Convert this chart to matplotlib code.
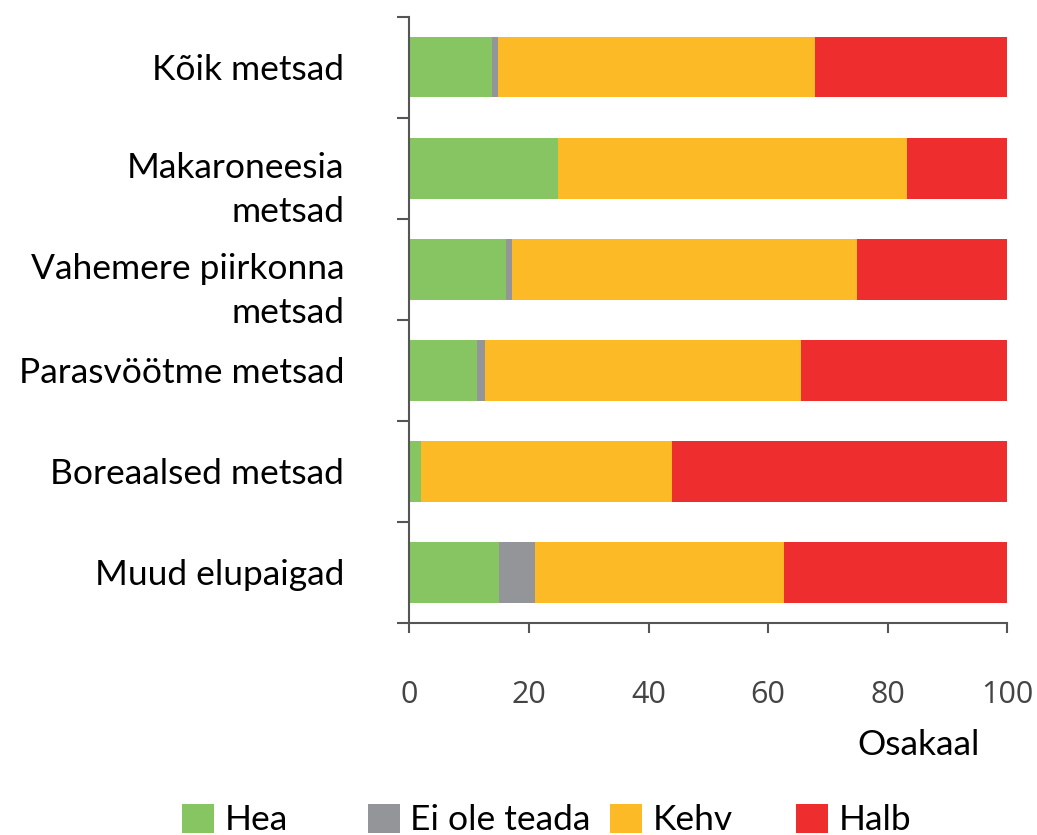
import matplotlib
matplotlib.use("Agg")
import matplotlib.pyplot as plt
import matplotlib.transforms as mtransforms
import numpy as np

categories = ["Kõik metsad", "Makaroneesia\nmetsad", "Vahemere piirkonna\nmetsad",
              "Parasvöötme metsad", "Boreaalsed metsad", "Muud elupaigad"]
hea = [13.8, 24.9, 16.2, 11.4, 2.0, 15.0]
ei_ole_teada = [1.1, 0.0, 0.9, 1.3, 0.0, 6.0]
kehv = [53.0, 58.4, 57.7, 52.8, 42.0, 41.6]
halb = [32.1, 16.7, 25.2, 34.5, 56.0, 37.4]
series_names = ["Hea", "Ei ole teada", "Kehv", "Halb"]
colors = ["#86C562", "#939598", "#FDBA27", "#EE2D2F"]
xticks = [0, 20, 40, 60, 80, 100]

W, H = 1037, 835
fig = plt.figure(figsize=(W / 100, H / 100), dpi=100)
ax = fig.add_axes([409.3 / W, (H - 623) / H, 598 / W, 606.4 / H])

label_font = "Lato"
tick_font = "Open Sans"
axcol = "#555555"
fs = 25.5

y = np.arange(len(categories))
left = np.zeros(len(categories))
bars = []
for vals, name, c in zip([hea, ei_ole_teada, kehv, halb], series_names, colors):
    b = ax.barh(y, vals, left=left, height=0.6, color=c, label=name, linewidth=0)
    bars.append(b)
    left = left + np.array(vals)

ax.set_xlim(0, 100)
ax.set_ylim(len(categories) - 0.5, -0.5)

for s in ["top", "right"]:
    ax.spines[s].set_visible(False)
for s in ["left", "bottom"]:
    ax.spines[s].set_color(axcol)
    ax.spines[s].set_linewidth(1.5)

# separators as major ticks, labels on minor ticks
ax.set_yticks(np.arange(-0.5, len(categories), 1.0))
ax.set_yticklabels([])
ax.set_yticks(y, minor=True)
ax.set_yticklabels(categories, minor=True, fontsize=fs, family=label_font,
                   linespacing=1.45)
ax.tick_params(axis="y", which="major", length=9, width=1.5, color=axcol, direction="out")
ax.tick_params(axis="y", which="minor", length=0, pad=47)

for lab in ax.get_yticklabels(minor=True):
    if "\n" in lab.get_text():
        lab.set_va("top")
        lab.set_transform(lab.get_transform() +
                          mtransforms.ScaledTranslation(0, 11.5 / 72, fig.dpi_scale_trans))

ax.set_xticks(xticks)
ax.set_xticklabels([str(t) for t in xticks], fontsize=22, family=tick_font, color="#444444")
ax.tick_params(axis="x", length=7, width=1.5, color=axcol, direction="out", pad=34)

ax.set_xlabel("Osakaal", fontsize=fs, family=label_font, va="center")
ax.xaxis.set_label_coords((919 - 409.3) / 598, (623 - 745) / 606.4)

# legend entries placed individually
sq_x = [182, 368, 610, 796]
for b, name, sx in zip(bars, series_names, sq_x):
    fig.legend([b], [name], loc="center left",
               bbox_to_anchor=(sx / W, (H - 820) / H),
               frameon=False, handlelength=0.9, handleheight=0.9,
               handletextpad=0.3, borderpad=0, borderaxespad=0,
               prop={"family": label_font, "size": fs})

fig.savefig("out.png", dpi=100)
